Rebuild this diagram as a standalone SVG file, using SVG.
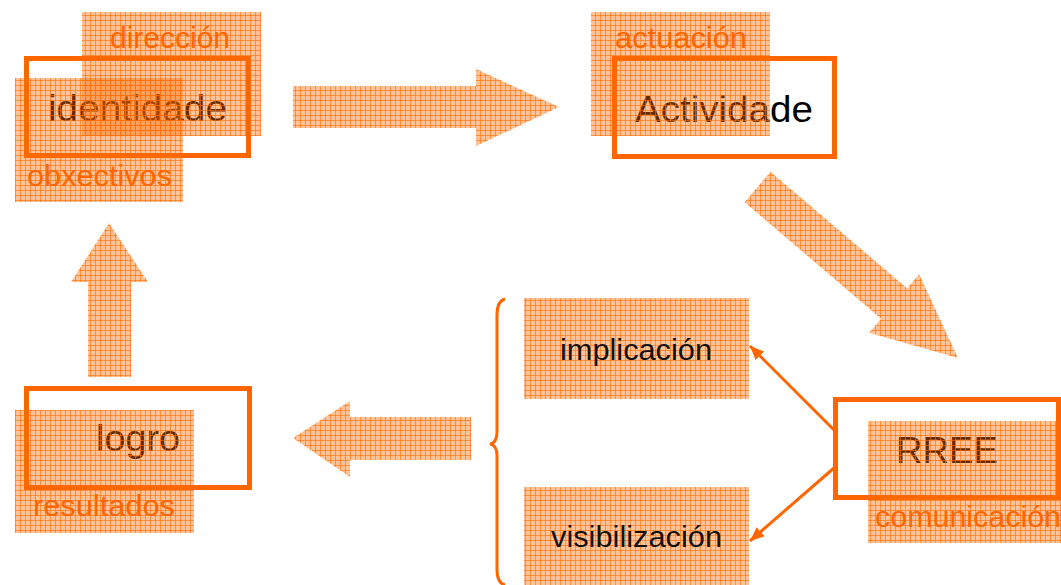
<svg xmlns="http://www.w3.org/2000/svg" width="1061" height="585" viewBox="0 0 1061 585">
<style>
.box{fill:none;stroke:#FF6600;stroke-width:5}
.pat{fill:url(#grid)}
.main{font-family:"Liberation Sans",Arial,sans-serif;font-size:37px;fill:#000}
.lab{font-family:"Liberation Sans",Arial,sans-serif;font-size:29px;fill:#FF6600}
.sub{font-family:"Liberation Sans",Arial,sans-serif;font-size:29px;fill:#111}
.thin{fill:none;stroke:#FF6600;stroke-width:3}
</style>
<defs>
<pattern id="grid" width="5" height="5" patternUnits="userSpaceOnUse">
<rect width="5" height="5" fill="#FF6A00" fill-opacity="0.4"/>
<path d="M0 0.5H5M0.5 0V5" stroke="#FF6A00" stroke-opacity="0.6" stroke-width="1" fill="none"/>
</pattern>
<marker id="ah" markerUnits="userSpaceOnUse" markerWidth="16" markerHeight="14" refX="14" refY="7" orient="auto">
<path d="M0 1 L14 7 L0 13 Z" fill="#FF6600"/>
</marker>
</defs>
<rect width="1061" height="585" fill="#fff"/>

<g id="connectors">
<polygon class="pat" points="293,86 476,86 476,69 559,107 476,146 476,128 293,128"/>
<polygon class="pat" points="770.5,171.8 907.1,288.3 919.1,274.2 958,358 869.1,332.8 881.1,318.7 744.5,202.2"/>
<polygon class="pat" points="471,417 350,417 350,401 293,438 350,477 350,460 471,460"/>
<polygon class="pat" points="88,377 88,282 71,282 109,223 148,282 131,282 131,377"/>
<line class="thin" x1="834" y1="430" x2="750" y2="346" marker-end="url(#ah)"/>
<line class="thin" x1="834" y1="468" x2="750" y2="541" marker-end="url(#ah)"/>
<path class="thin" d="M505 299 Q497 301 497 315 L497 432 Q497 443 490 444 Q497 445 497 456 L497 570 Q497 583 505 585"/>
</g>

<g id="identidade">
<rect class="box" x="26.5" y="58.5" width="222" height="97"/>
<text class="main" x="48" y="121" textLength="179" lengthAdjust="spacingAndGlyphs">identidade</text>
<rect class="pat" x="82" y="12" width="179" height="124"/>
<rect class="pat" x="15" y="78" width="168" height="124"/>
<text class="lab" x="110" y="48" textLength="120" lengthAdjust="spacingAndGlyphs">dirección</text>
<text class="lab" x="27" y="186" textLength="145" lengthAdjust="spacingAndGlyphs">obxectivos</text>
</g>

<g id="actividade">
<rect class="box" x="614.5" y="58.5" width="220" height="98"/>
<text class="main" x="635" y="122" textLength="178" lengthAdjust="spacingAndGlyphs">Actividade</text>
<rect class="pat" x="591" y="12" width="179" height="124"/>
<text class="lab" x="615" y="48" textLength="132" lengthAdjust="spacingAndGlyphs">actuación</text>
</g>

<g id="rree">
<rect class="box" x="835.5" y="399.5" width="223" height="98"/>
<text class="main" x="896" y="463" textLength="102" lengthAdjust="spacingAndGlyphs">RREE</text>
<rect class="pat" x="868" y="421" width="200" height="122"/>
<text class="lab" x="875" y="527" textLength="186" lengthAdjust="spacingAndGlyphs">comunicación</text>
</g>

<g id="logro">
<rect class="box" x="26.5" y="388.5" width="223" height="99"/>
<text class="main" x="96" y="451" textLength="84" lengthAdjust="spacingAndGlyphs">logro</text>
<rect class="pat" x="15" y="410" width="179" height="123"/>
<text class="lab" x="33" y="516" textLength="142" lengthAdjust="spacingAndGlyphs">resultados</text>
</g>

<g id="implicacion">
<rect class="pat" x="524" y="298" width="225" height="101"/>
<text class="sub" x="560" y="360" textLength="152" lengthAdjust="spacingAndGlyphs">implicación</text>
</g>

<g id="visibilizacion">
<rect class="pat" x="524" y="487" width="225" height="100"/>
<text class="sub" x="551" y="547" textLength="171" lengthAdjust="spacingAndGlyphs">visibilización</text>
</g>
</svg>
